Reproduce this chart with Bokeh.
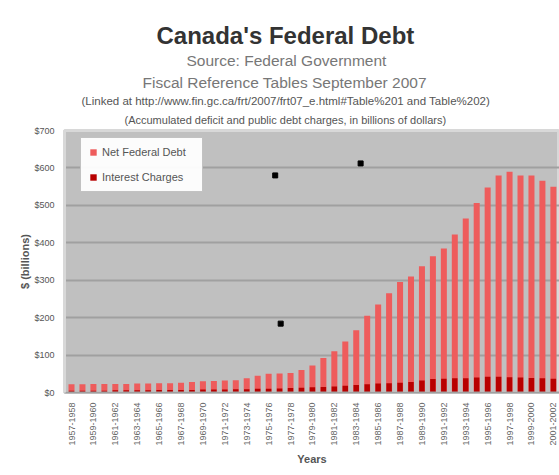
import math
from bokeh.plotting import figure
from bokeh.models import (Range1d, FixedTicker, NumeralTickFormatter, Title,
                          Legend, LegendItem, ColumnDataSource)
from bokeh.embed import file_html
from bokeh.resources import INLINE

FONT = "Liberation Sans"

years = ["1957-1958", "1958-1959", "1959-1960", "1960-1961", "1961-1962",
         "1962-1963", "1963-1964", "1964-1965", "1965-1966", "1966-1967",
         "1967-1968", "1968-1969", "1969-1970", "1970-1971", "1971-1972",
         "1972-1973", "1973-1974", "1974-1975", "1975-1976", "1976-1977",
         "1977-1978", "1978-1979", "1979-1980", "1980-1981", "1981-1982",
         "1982-1983", "1983-1984", "1984-1985", "1985-1986", "1986-1987",
         "1987-1988", "1988-1989", "1989-1990", "1990-1991", "1991-1992",
         "1992-1993", "1993-1994", "1994-1995", "1995-1996", "1996-1997",
         "1997-1998", "1998-1999", "1999-2000", "2000-2001", "2001-2002"]

net_debt = [22, 22, 23, 23, 23, 23, 24, 24, 25, 25,
            26, 28, 30, 31, 32, 33, 38, 45, 50, 51,
            52, 60, 72, 92, 110, 136, 166, 205, 235, 265,
            295, 310, 337, 364, 385, 422, 465, 506, 548, 580,
            590, 580, 580, 566, 550]

interest = [5, 5, 5, 5, 6, 6, 6, 6, 7, 7,
            7, 7, 8, 8, 8, 9, 9, 10, 10, 11,
            12, 13, 14, 15, 16, 18, 20, 22, 24, 25,
            26, 28, 32, 36, 37, 38, 38, 40, 42, 42,
            41, 40, 39, 38, 37]

# black selection handles seen on the chart (category index, value)
handle_x = [18.6, 26.4, 19.1]
handle_y = [580, 612, 184]

y_ticks = [0, 100, 200, 300, 400, 500, 600, 700]

idx = list(range(len(years)))
src = ColumnDataSource(dict(x=idx, debt=net_debt, interest=interest, year=years))

p = figure(width=559, height=475, output_backend="svg", toolbar_location=None,
           x_range=Range1d(-0.64, 44.56), y_range=Range1d(0, 700),
           min_border_left=64, min_border_right=0, min_border_top=130,
           min_border_bottom=83)
p.background_fill_color = "#c0c0c0"
p.border_fill_color = "white"
p.outline_line_color = "#d8d8d8"
p.outline_line_width = 3

r1 = p.vbar(x="x", top="debt", width=0.55, source=src,
            fill_color="#ee5c5c", line_color=None)
r2 = p.vbar(x="x", top="interest", width=0.5, source=src,
            fill_color="#b80000", line_color=None)
p.scatter(handle_x, handle_y, marker="square", size=5, color="black")

# grid
p.xgrid.grid_line_color = None
p.ygrid.ticker = FixedTicker(ticks=y_ticks)
p.ygrid.grid_line_color = "#a0a0a0"
p.ygrid.grid_line_width = 2

# y axis
ya = p.yaxis[0]
ya.ticker = FixedTicker(ticks=y_ticks)
ya.formatter = NumeralTickFormatter(format="$0")
ya.major_label_text_font = FONT
ya.major_label_text_font_size = "9px"
ya.major_label_text_color = "#555555"
ya.axis_line_color = "#d8d8d8"
ya.axis_line_width = 3
ya.major_tick_line_color = None
ya.minor_tick_line_color = None
ya.major_label_standoff = 4
ya.axis_label = "$ (billions)"
ya.axis_label_text_font = FONT
ya.axis_label_text_font_size = "11px"
ya.axis_label_text_font_style = "bold"
ya.axis_label_text_color = "#555555"
ya.axis_label_standoff = 0

# x axis
xa = p.xaxis[0]
xa.ticker = FixedTicker(ticks=idx[::2])
xa.major_label_overrides = {i: years[i] for i in idx[::2]}
xa.major_label_orientation = math.pi / 2
xa.major_label_text_font = FONT
xa.major_label_text_font_size = "9px"
xa.major_label_text_color = "#666666"
xa.axis_line_color = "#a0a0a0"
xa.axis_line_width = 2
xa.major_tick_line_color = None
xa.minor_tick_line_color = None
xa.major_label_standoff = 4
xa.axis_label = "Years"
xa.axis_label_text_font = FONT
xa.axis_label_text_font_size = "11px"
xa.axis_label_text_font_style = "bold"
xa.axis_label_text_color = "#555555"
xa.axis_label_standoff = 4

legend = Legend(items=[LegendItem(label="Net Federal Debt", renderers=[r1]),
                       LegendItem(label="Interest Charges", renderers=[r2])],
                location=(16, 200))
legend.background_fill_color = "white"
legend.border_line_color = "#888888"
legend.label_text_font = FONT
legend.label_text_font_size = "11px"
legend.label_text_color = "#555555"
legend.glyph_width = 8
legend.glyph_height = 8
legend.label_height = 12
legend.label_width = 92
legend.spacing = 13
legend.padding = 8
legend.margin = 0
p.add_layout(legend)

# title block (added from the frame outward), left-aligned with offsets so that
# each line is centred on the whole chart area rather than on the plot frame
titles = [
    ("(Accumulated deficit and public debt charges, in billions of dollars)", "11px", "normal", "#555555", 9, 60),
    ("(Linked at http://www.fin.gc.ca/frt/2007/frt07_e.html#Table%201 and Table%202)", "11.5px", "normal", "#555555", 1, 17),
    ("Fiscal Reference Tables September 2007", "15.5px", "normal", "#777777", 4, 78),
    ("Source: Federal Government", "15.5px", "normal", "#777777", 1, 122),
    ("Canada's Federal Debt", "24px", "bold", "#333333", 2, 92),
]
for text, size, style, color, standoff, off in titles:
    p.add_layout(Title(text=text, align="left", offset=off, text_font=FONT,
                       text_font_size=size, text_font_style=style,
                       text_color=color, standoff=standoff), "above")

open("out.html", "w").write(file_html(p, INLINE))
